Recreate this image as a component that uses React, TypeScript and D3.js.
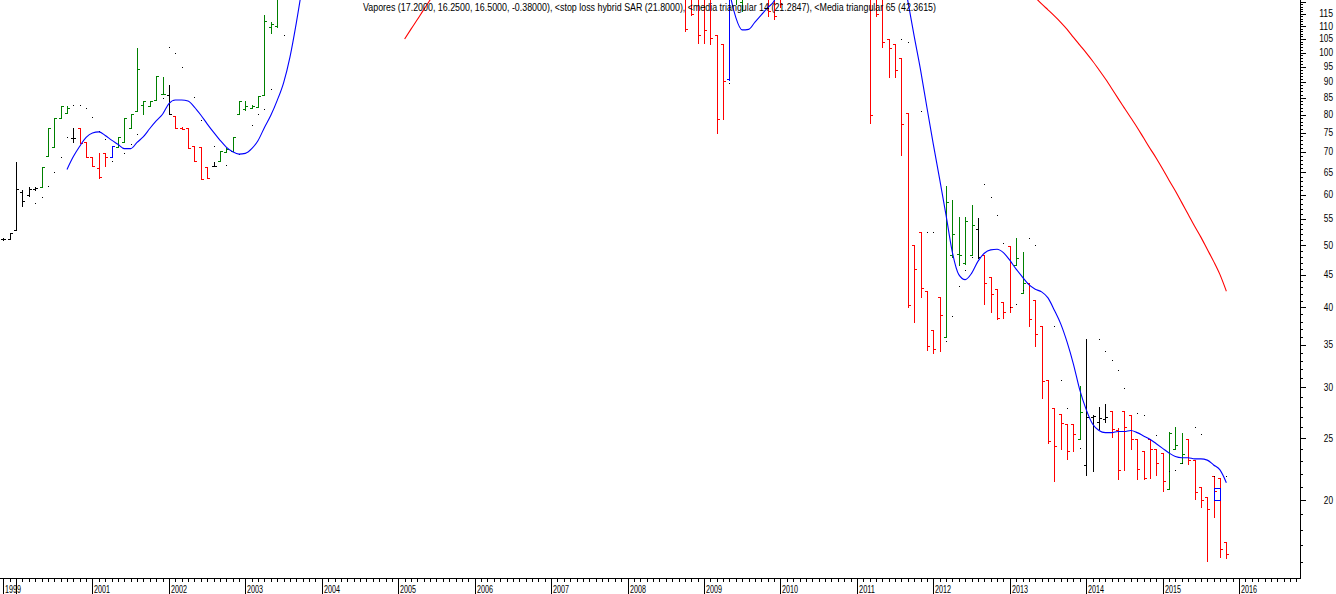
import * as d3 from 'd3'

type Tone = 'g' | 'r' | 'k' | 'b'
// [month, open, high, low, close, tone]
type Bar = [string, number, number, number, number, Tone]

const title =
  'Vapores (17.2000, 16.2500, 16.5000, -0.38000), <stop loss hybrid SAR (21.8000), <media triangular 14 (21.2847), <Media triangular 65 (42.3615)'

// monthly bars, 1999-2003 (later months run off the top of the chart)
const barsEarly: Bar[] = [
  ['1999-11', 51.1, 51.3, 51.0, 51.1, 'k'],
  ['1999-12', 51.1, 52.2, 51.1, 52.2, 'k'],
  ['2000-01', 52.9, 67.4, 52.8, 61.2, 'k'],
  ['2000-02', 60.5, 61.0, 57.5, 58.6, 'k'],
  ['2000-03', 60.0, 61.6, 59.7, 61.3, 'k'],
  ['2000-04', 61.2, 61.7, 61.1, 61.5, 'k'],
  ['2000-05', 61.6, 66.2, 61.6, 66.2, 'g'],
  ['2000-06', 69.0, 76.2, 69.0, 76.2, 'g'],
  ['2000-07', 71.3, 79.0, 71.3, 79.0, 'g'],
  ['2000-08', 79.0, 82.6, 79.0, 82.6, 'g'],
  ['2000-09', 80.6, 82.5, 80.6, 82.0, 'g'],
  ['2000-10', 73.6, 76.3, 72.5, 73.6, 'k'],
  ['2000-11', 76.3, 76.3, 72.3, 72.3, 'r'],
  ['2000-12', 72.5, 72.5, 68.7, 68.7, 'r'],
  ['2001-01', 68.8, 68.8, 66.4, 66.4, 'r'],
  ['2001-02', 66.1, 69.8, 63.6, 64.0, 'r'],
  ['2001-03', 69.8, 69.8, 66.4, 68.7, 'r'],
  ['2001-04', 68.8, 71.4, 68.8, 71.4, 'b'],
  ['2001-05', 71.3, 73.8, 71.3, 73.8, 'g'],
  ['2001-06', 72.5, 79.0, 72.5, 79.0, 'g'],
  ['2001-07', 76.3, 80.2, 76.3, 80.2, 'g'],
  ['2001-08', 81.1, 101.5, 81.1, 94.2, 'g'],
  ['2001-09', 82.9, 84.0, 80.2, 84.0, 'g'],
  ['2001-10', 82.6, 84.0, 82.6, 84.0, 'g'],
  ['2001-11', 84.3, 91.9, 84.3, 91.9, 'g'],
  ['2001-12', 86.3, 91.5, 86.3, 86.3, 'g'],
  ['2002-01', 86.0, 89.0, 80.1, 80.2, 'k'],
  ['2002-02', 79.6, 79.6, 76.2, 76.2, 'r'],
  ['2002-03', 76.3, 76.4, 76.0, 76.1, 'r'],
  ['2002-04', 76.2, 76.2, 71.0, 71.0, 'r'],
  ['2002-05', 71.4, 71.4, 67.6, 67.6, 'r'],
  ['2002-06', 71.1, 71.1, 63.5, 63.5, 'r'],
  ['2002-07', 66.2, 66.2, 63.8, 63.8, 'r'],
  ['2002-08', 66.5, 67.4, 66.4, 66.5, 'k'],
  ['2002-09', 67.6, 70.1, 67.6, 70.1, 'g'],
  ['2002-10', 70.0, 70.9, 69.9, 70.8, 'g'],
  ['2002-11', 70.2, 73.9, 70.2, 73.9, 'g'],
  ['2002-12', 80.2, 84.1, 80.2, 84.1, 'g'],
  ['2003-01', 81.5, 84.1, 81.3, 82.5, 'g'],
  ['2003-02', 81.8, 82.7, 81.8, 82.5, 'g'],
  ['2003-03', 82.3, 85.6, 82.3, 85.6, 'g'],
  ['2003-04', 85.8, 114.5, 85.8, 112.1, 'g'],
  ['2003-05', 109.5, 111.7, 107.2, 111.0, 'g'],
  ['2003-06', 110.0, 128.0, 109.5, 126.0, 'g'],
]

// 2008-2010: only the lower ends of these bars show below the top edge
const barsMiddle: Bar[] = [
  ['2008-10', 125, 130, 108.2, 109.0, 'r'],
  ['2008-11', 125, 130, 114.5, 115.0, 'r'],
  ['2008-12', 125, 130, 103.5, 106.7, 'r'],
  ['2009-01', 125, 130, 103.5, 108.4, 'r'],
  ['2009-02', 125, 130, 103.3, 105.4, 'r'],
  ['2009-03', 106.5, 106.5, 74.8, 78.8, 'r'],
  ['2009-04', 103.3, 103.3, 78.8, 90.4, 'r'],
  ['2009-05', 91.0, 135, 90.6, 130, 'b'],
  ['2009-06', 125, 135, 119.0, 130, 'g'],
  ['2009-07', 120, 135, 116.0, 130, 'g'],
  ['2009-11', 130, 135, 114.2, 116.0, 'r'],
  ['2009-12', 130, 135, 112.7, 114.0, 'r'],
  ['2010-01', 130, 135, 117.9, 119.0, 'r'],
]

const barsLate: Bar[] = [
  ['2011-03', 130, 135, 77.7, 80.0, 'r'],
  ['2011-04', 130, 135, 114.2, 115.0, 'r'],
  ['2011-05', 130, 135, 102.1, 103.7, 'r'],
  ['2011-06', 104.9, 104.9, 91.7, 101.5, 'r'],
  ['2011-07', 103.3, 103.3, 91.5, 93.8, 'r'],
  ['2011-08', 98.0, 98.0, 69.3, 77.3, 'r'],
  ['2011-09', 80.6, 80.6, 40.0, 40.4, 'r'],
  ['2011-10', 50.1, 50.1, 38.0, 45.9, 'r'],
  ['2011-11', 52.4, 52.4, 41.6, 42.9, 'r'],
  ['2011-12', 42.4, 42.4, 34.3, 34.8, 'r'],
  ['2012-01', 36.9, 36.9, 34.0, 34.5, 'r'],
  ['2012-02', 41.5, 41.5, 34.2, 38.9, 'r'],
  ['2012-03', 36.0, 61.8, 36.0, 58.4, 'g'],
  ['2012-04', 48.3, 58.8, 48.0, 52.0, 'g'],
  ['2012-05', 48.5, 55.4, 46.6, 48.3, 'g'],
  ['2012-06', 47.0, 55.4, 46.7, 54.6, 'g'],
  ['2012-07', 48.3, 57.8, 48.3, 53.7, 'g'],
  ['2012-08', 53.0, 55.1, 47.7, 48.0, 'k'],
  ['2012-09', 48.3, 48.3, 40.5, 43.6, 'r'],
  ['2012-10', 44.6, 44.6, 39.3, 42.0, 'r'],
  ['2012-11', 42.7, 42.7, 38.3, 38.5, 'r'],
  ['2012-12', 40.8, 40.8, 38.5, 39.3, 'r'],
  ['2013-01', 49.8, 49.8, 39.3, 40.0, 'r'],
  ['2013-02', 46.6, 51.3, 46.6, 47.8, 'g'],
  ['2013-03', 42.1, 48.8, 42.1, 43.7, 'g'],
  ['2013-04', 43.7, 43.7, 37.4, 38.3, 'r'],
  ['2013-05', 41.1, 41.1, 34.8, 36.4, 'r'],
  ['2013-06', 37.4, 37.4, 28.9, 30.7, 'r'],
  ['2013-07', 30.8, 30.8, 24.6, 24.7, 'r'],
  ['2013-08', 27.9, 27.9, 21.4, 24.3, 'r'],
  ['2013-09', 27.3, 27.3, 24.0, 26.4, 'r'],
  ['2013-10', 26.3, 26.3, 23.2, 23.9, 'r'],
  ['2013-11', 26.3, 26.3, 23.9, 25.4, 'r'],
  ['2013-12', 24.9, 30.2, 24.9, 27.5, 'g'],
  ['2014-01', 22.7, 35.7, 21.9, 27.0, 'k'],
  ['2014-02', 27.0, 27.2, 22.2, 27.1, 'k'],
  ['2014-03', 26.5, 28.0, 25.8, 26.9, 'k'],
  ['2014-04', 26.8, 28.3, 26.5, 27.0, 'k'],
  ['2014-05', 27.6, 27.6, 25.1, 25.8, 'r'],
  ['2014-06', 25.7, 25.9, 21.6, 22.3, 'r'],
  ['2014-07', 27.6, 27.6, 22.3, 26.0, 'r'],
  ['2014-08', 27.2, 27.2, 24.0, 24.9, 'r'],
  ['2014-09', 24.9, 24.9, 21.6, 22.4, 'r'],
  ['2014-10', 23.9, 23.9, 21.6, 21.7, 'r'],
  ['2014-11', 24.9, 24.9, 21.7, 24.0, 'r'],
  ['2014-12', 24.0, 24.0, 21.9, 22.9, 'r'],
  ['2015-01', 23.7, 23.7, 20.7, 21.4, 'r'],
  ['2015-02', 20.8, 25.6, 20.8, 25.5, 'g'],
  ['2015-03', 24.0, 26.0, 24.0, 24.4, 'g'],
  ['2015-04', 22.9, 25.5, 22.9, 23.6, 'g'],
  ['2015-05', 24.9, 24.9, 22.8, 23.1, 'r'],
  ['2015-06', 23.1, 23.1, 20.1, 20.6, 'r'],
  ['2015-07', 21.0, 21.0, 19.5, 20.0, 'r'],
  ['2015-08', 20.2, 20.2, 16.1, 19.4, 'r'],
  ['2015-09', 21.8, 21.8, 18.8, 20.7, 'r'],
  ['2015-10', 21.7, 21.7, 16.3, 16.8, 'r'],
  ['2015-11', 17.2, 17.2, 16.25, 16.5, 'r'],
]

// stop loss hybrid SAR dots
const sarPoints: [string, number][] = [
  ['2000-04', 58.2], ['2000-05', 59.4], ['2000-06', 61.8], ['2000-07', 65.0],
  ['2000-08', 68.8], ['2000-09', 73.8], ['2000-10', 82.7], ['2000-11', 82.7],
  ['2000-12', 81.9], ['2001-01', 79.3], ['2001-02', 75.4], ['2001-03', 73.2],
  ['2001-04', 67.7], ['2001-06', 69.8], ['2001-07', 71.9], ['2001-08', 74.6],
  ['2001-12', 84.8], ['2002-01', 101.9], ['2002-02', 99.8], ['2002-03', 94.9],
  ['2002-05', 85.3], ['2002-06', 78.4], ['2002-08', 71.4], ['2002-10', 66.8],
  ['2002-12', 69.5], ['2003-02', 77.0], ['2003-03', 80.1], ['2003-04', 81.7],
  ['2003-05', 87.6], ['2003-07', 106.7],
  ['2009-05', 89.5],
  ['2011-08', 104.9], ['2011-09', 103.7], ['2011-11', 81.0], ['2011-12', 52.4],
  ['2012-01', 52.4], ['2012-03', 35.4], ['2012-04', 38.8], ['2012-05', 43.2],
  ['2012-06', 45.8], ['2012-07', 48.0], ['2012-09', 62.3], ['2012-10', 59.5],
  ['2012-11', 55.7], ['2012-12', 50.5], ['2013-01', 40.0], ['2013-02', 40.5],
  ['2013-03', 42.6], ['2013-04', 51.3], ['2013-05', 50.1], ['2013-08', 37.4],
  ['2013-09', 30.8], ['2013-10', 27.9], ['2013-12', 24.1], ['2014-03', 35.7],
  ['2014-04', 34.2], ['2014-05', 33.1], ['2014-06', 31.9], ['2014-07', 29.9],
  ['2014-09', 27.4], ['2014-10', 27.2], ['2014-12', 25.3], ['2015-02', 22.2],
  ['2015-03', 22.3], ['2015-04', 22.9], ['2015-06', 26.0], ['2015-07', 25.4],
  ['2015-09', 21.8], ['2015-11', 21.8],
]

// media triangular 14 (blue), runs of monthly values from a start month
const tma14Runs: [string, number[]][] = [
  ['2000-09', [
    65.7, 68.8, 71.4, 73.7, 74.9, 75.2, 74.2, 73.0, 71.9, 70.8, 70.8, 72.4, 73.9,
    76.1, 78.2, 80.1, 83.2, 84.3, 84.3, 84.0, 82.2, 79.9, 77.4, 75.1, 73.0, 71.2,
    70.0, 69.4, 69.6, 70.8, 72.9, 76.4, 79.8, 84.2, 89.7, 98.4, 111.3, 128,
  ]],
  ['2009-04', [150, 125, 113.4, 108.5, 108.7, 111.6, 114.5, 117.5, 120.4, 128]],
  ['2011-08', [
    137, 120.3, 106.0, 93.9, 82.0, 71.9, 63.4, 55.7, 48.7, 45.0, 44.2, 45.2, 47.2,
    48.6, 49.2, 49.3, 48.7, 47.4, 45.9, 44.6, 43.4, 42.7, 42.3, 41.4, 39.6, 37.7,
    35.3, 32.6, 29.7, 27.7, 26.3, 25.7, 25.5, 25.5, 25.6, 25.6, 25.7, 25.5, 25.2,
    24.9, 24.5, 24.1, 23.7, 23.4, 23.3, 23.3, 23.2, 23.2, 23.1, 22.7, 22.3, 21.3,
  ]],
]

// media triangular 65 (red)
const tma65Runs: [string, number[]][] = [
  ['2005-02', [105.0, 108.8, 112.6, 116.7, 120.8, 125]],
  ['2013-04', [
    124.8, 121.9, 119.1, 116.6, 114.1, 111.5, 108.7, 105.6, 102.7, 99.9, 97.0,
    94.0, 91.0, 87.9, 84.8, 81.9, 79.1, 76.4, 73.6, 70.9, 68.4, 65.8, 63.2, 60.8,
    58.3, 55.9, 53.6, 51.5, 49.3, 47.2, 45.0, 42.4,
  ]],
]

// outlined box on the last months
const boxMonths = ['2015-09', '2015-10']
const boxRange = [20.0, 20.9]

const toneColor: Record<Tone, string> = {
  g: '#008000',
  r: '#ff0000',
  k: '#000000',
  b: '#0000ff',
}

const plotRight = 1300
const plotBottom = 578
const font = 'Liberation Sans, Arial, sans-serif'

const monthIndex = (s: string) => {
  const [yy, mm] = s.split('-').map(Number)
  return yy * 12 + mm - 1
}

const firstMonth = monthIndex('1999-11')

const x = d3.scaleLinear()
  .domain([firstMonth, monthIndex('2016-01')])
  .range([3.3, 1239.1])

const y = d3.scaleLog()
  .domain([15.12, 120.8])
  .range([plotBottom, 0])

const crisp = (v: number) => Math.round(v) + 0.5

const runPoints = (start: string, values: number[]) =>
  values.map((v, i) => [monthIndex(start) + i, v] as [number, number])

const line = d3.line<[number, number]>()
  .x(d => x(d[0]))
  .y(d => y(d[1]))
  .curve(d3.curveMonotoneX)

export default function App() {
  const bars = [...barsEarly, ...barsMiddle, ...barsLate]

  const monthTicks = d3.range(firstMonth, firstMonth + 260).filter(m => x(m) < plotRight - 0.5)
  const valueTicks = d3.range(16, 121).filter(v => y(v) >= 0 && y(v) <= plotBottom)

  const boxX0 = x(monthIndex(boxMonths[0]))
  const boxX1 = x(monthIndex(boxMonths[1]))

  return (
    <svg
      width={1336}
      height={594}
      style={{ position: 'absolute', left: 0, top: 0, background: '#ffffff' }}
    >
      <defs>
        <clipPath id="plot">
          <rect x={0} y={0} width={plotRight} height={plotBottom} />
        </clipPath>
      </defs>

      <g clipPath="url(#plot)" shapeRendering="crispEdges">
        {bars.map(([m, o, h, l, c, tone]) => {
          const px = crisp(x(monthIndex(m)))
          const col = toneColor[tone]
          return (
            <g key={m} stroke={col} strokeWidth={1}>
              <line x1={px} x2={px} y1={Math.round(y(h))} y2={Math.round(y(l)) + 1} />
              <line x1={px - 2.5} x2={px} y1={crisp(y(o))} y2={crisp(y(o))} />
              <line x1={px} x2={px + 2.5} y1={crisp(y(c))} y2={crisp(y(c))} />
            </g>
          )
        })}

        {sarPoints.map(([m, v]) => (
          <rect
            key={'sar' + m}
            x={Math.round(x(monthIndex(m))) - 0.5}
            y={Math.round(y(v)) - 0.5}
            width={1.5}
            height={1.5}
            fill="#000000"
          />
        ))}

        <rect
          x={crisp(boxX0)}
          y={crisp(y(boxRange[1]))}
          width={Math.round(boxX1 - boxX0)}
          height={Math.round(y(boxRange[0]) - y(boxRange[1]))}
          fill="none"
          stroke="#0000ff"
          strokeWidth={1}
        />
      </g>

      <g clipPath="url(#plot)">
        {tma14Runs.map(([start, vals]) => (
          <path key={'b' + start} d={line(runPoints(start, vals)) ?? ''} fill="none" stroke="#0000ff" strokeWidth={1.1} />
        ))}
        {tma65Runs.map(([start, vals]) => (
          <path key={'r' + start} d={line(runPoints(start, vals)) ?? ''} fill="none" stroke="#ff0000" strokeWidth={1.1} />
        ))}
      </g>

      {/* axes */}
      <g stroke="#000000" strokeWidth={1} shapeRendering="crispEdges">
        <line x1={0} x2={plotRight + 0.5} y1={plotBottom + 0.5} y2={plotBottom + 0.5} />
        <line x1={plotRight + 0.5} x2={plotRight + 0.5} y1={0} y2={plotBottom + 0.5} />
        {monthTicks.map(m => {
          const px = crisp(x(m))
          const isYear = m === firstMonth || m % 12 === 0
          return <line key={'mt' + m} x1={px} x2={px} y1={plotBottom} y2={isYear ? 594 : plotBottom + 4} />
        })}
        {valueTicks.map(v => {
          const py = crisp(y(v))
          return <line key={'vt' + v} x1={plotRight} x2={plotRight + (v % 5 === 0 ? 6 : 3)} y1={py} y2={py} />
        })}
      </g>

      <g fill="#000000" fontFamily={font} fontSize={10}>
        {monthTicks
          .filter(m => m === firstMonth || (m % 12 === 0 && Math.floor(m / 12) >= 2001))
          .map(m => {
            const label = String(Math.floor(m / 12))
            return (
              <text
                key={'yl' + m}
                x={Math.round(x(m)) + 2}
                y={593}
                textLength={16}
                lengthAdjust="spacingAndGlyphs"
              >
                {label}
              </text>
            )
          })}
        {valueTicks
          .filter(v => v % 5 === 0 && v <= 115)
          .map(v => {
            const label = String(v)
            return (
              <text
                key={'vl' + v}
                x={1333}
                y={y(v) + 3.5}
                textAnchor="end"
                textLength={label.length * 4.6}
                lengthAdjust="spacingAndGlyphs"
              >
                {label}
              </text>
            )
          })}
        <text x={363} y={10.5} textLength={573} lengthAdjust="spacingAndGlyphs">
          {title}
        </text>
      </g>
    </svg>
  )
}
